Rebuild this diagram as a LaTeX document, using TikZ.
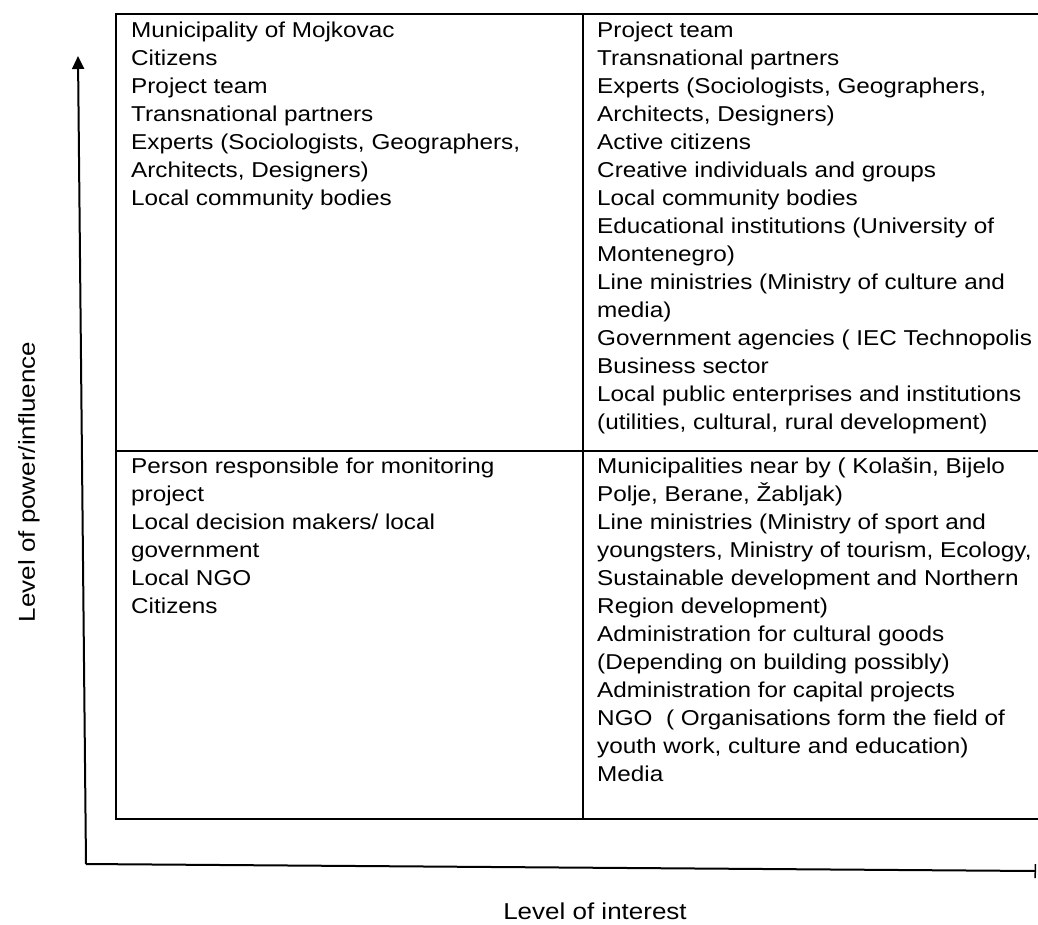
\documentclass[tikz,border=0pt]{standalone}
\usepackage{fontspec}
\setmainfont[FakeStretch=1.13]{Liberation Sans}
\usetikzlibrary{arrows.meta}
\begin{document}
\begin{tikzpicture}[x=1pt,y=-1pt,
  cell/.style={anchor=north west,inner sep=0pt,align=left,
    font=\fontsize{21.5}{28}\selectfont},
  grid/.style={line width=1.2pt,black},
  axis/.style={line width=2pt,black},
  axislabel/.style={inner sep=0pt,font=\fontsize{23}{26}\selectfont}]
\useasboundingbox (0,0) rectangle (1038,924);
\fill[white] (0,0) rectangle (1038,924);

% quadrant grid
\draw[grid] (1038,14) -- (116,14) -- (116,819) -- (1038,819);
\draw[grid] (583,14) -- (583,819);
\draw[grid] (116,451) -- (1038,451);

% quadrant contents
\node[cell] (tl) at (131,21) {\rule{0pt}{16pt}Municipality of Mojkovac\\
Citizens\\
Project team\\
Transnational partners\\
Experts (Sociologists, Geographers,\\
Architects, Designers)\\
Local community bodies};

\node[cell] (tr) at (597,21) {\rule{0pt}{16pt}Project team\\
Transnational partners\\
Experts (Sociologists, Geographers,\\
Architects, Designers)\\
Active citizens\\
Creative individuals and groups\\
Local community bodies\\
Educational institutions (University of\\
Montenegro)\\
Line ministries (Ministry of culture and\\
media)\\
Government agencies ( IEC Technopolis\\
Business sector\\
Local public enterprises and institutions\\
(utilities, cultural, rural development)};

\node[cell] (bl) at (131,457) {\rule{0pt}{16pt}Person responsible for monitoring\\
project\\
Local decision makers/ local\\
government\\
Local NGO\\
Citizens};

\node[cell] (br) at (597,457) {\rule{0pt}{16pt}Municipalities near by ( Kolašin, Bijelo\\
Polje, Berane, Žabljak)\\
Line ministries (Ministry of sport and\\
youngsters, Ministry of tourism, Ecology,\\
Sustainable development and Northern\\
Region development)\\
Administration for cultural goods\\
(Depending on building possibly)\\
Administration for capital projects\\
NGO\ \ ( Organisations form the field of\\
youth work, culture and education)\\
Media};

% axes
\coordinate (origin) at (86,864);
\coordinate (ytop) at (78,56);
\coordinate (xend) at (1036,871);
\draw[axis,-{Triangle[length=13pt,width=12pt]}] (origin) -- (ytop);
\draw[axis,-{Bar[width=14pt,line width=1.5pt]}] (origin) -- (xend);

% axis titles
\node[axislabel,rotate=90] (ylab) at (29,482) {Level of power/influence};
\node[axislabel] (xlab) at (595,911) {Level of interest};
\end{tikzpicture}
\end{document}
